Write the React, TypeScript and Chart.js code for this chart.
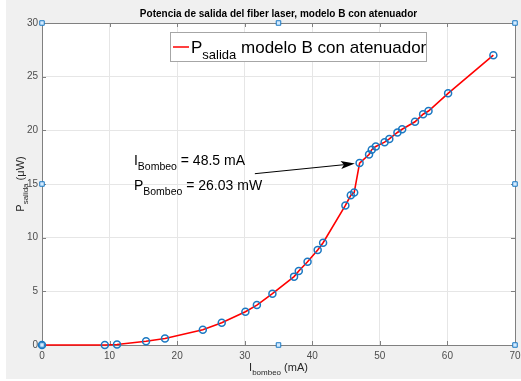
import React, { useEffect, useRef } from 'react';
import { Chart, registerables } from 'chart.js';

Chart.register(...registerables);

// ---- data ----
const currentMA = [0, 9.3, 11.1, 15.4, 18.2, 23.8, 26.6, 30.1, 31.8, 34.1, 37.3, 38.0, 39.3, 40.8, 41.6, 44.9, 45.7, 46.2, 47.0, 48.4, 48.8, 49.4, 50.7, 51.4, 52.6, 53.3, 55.2, 56.4, 57.2, 60.1, 66.8];
const powerUW = [0, 0, 0.05, 0.35, 0.6, 1.42, 2.07, 3.1, 3.72, 4.78, 6.37, 6.9, 7.76, 8.85, 9.53, 13.0, 13.95, 14.2, 16.95, 17.75, 18.2, 18.5, 18.9, 19.2, 19.8, 20.1, 20.8, 21.5, 21.8, 23.45, 27.0];

// selection handles of the axes (MATLAB edit mode)
const handleX = [0, 35, 70, 0, 70, 0, 35, 70];
const handleY = [0, 0, 0, 15, 15, 30, 30, 30];

const xMin = 0, xMax = 70, xStep = 10;
const yMin = 0, yMax = 30, yStep = 5;

const titleText = 'Potencia de salida del fiber laser, modelo B con atenuador';
const legendMain = 'P';
const legendSub = 'salida';
const legendRest = ' modelo B con atenuador';

// annotation (data units)
const annotTextX = 13.6;
const annotLine1Y = 16.75;
const annotLine2Y = 14.4;
const arrowFrom = [31.5, 15.96];
const arrowTo = [46.3, 16.9];

const FONT = '"Liberation Sans", Arial, Helvetica, sans-serif';

type Part = { t: string; sub?: boolean };

function richWidth(ctx: CanvasRenderingContext2D, parts: Part[], size: number, subSize: number) {
  let w = 0;
  for (const p of parts) {
    ctx.font = `${p.sub ? subSize : size}px ${FONT}`;
    w += ctx.measureText(p.t).width;
  }
  return w;
}

function drawRich(ctx: CanvasRenderingContext2D, parts: Part[], x: number, y: number, size: number, subSize: number, subDrop: number) {
  let cx = x;
  ctx.textAlign = 'left';
  ctx.textBaseline = 'alphabetic';
  for (const p of parts) {
    ctx.font = `${p.sub ? subSize : size}px ${FONT}`;
    ctx.fillText(p.t, cx, p.sub ? y + subDrop : y);
    cx += ctx.measureText(p.t).width;
  }
}

const matlabPlugin = {
  id: 'matlabDeco',
  beforeDraw(chart: any) {
    const { ctx, chartArea: a } = chart;
    ctx.save();
    ctx.fillStyle = '#ffffff';
    ctx.fillRect(a.left, a.top, a.right - a.left, a.bottom - a.top);
    ctx.restore();
  },
  beforeDatasetsDraw(chart: any) {
    const { ctx, chartArea: a, scales } = chart;
    const xs = scales.x, ys = scales.y;
    ctx.save();
    ctx.strokeStyle = '#808080';
    ctx.lineWidth = 1;
    ctx.beginPath();
    ctx.rect(Math.round(a.left) + 0.5, Math.round(a.top) + 0.5, Math.round(a.right - a.left), Math.round(a.bottom - a.top));
    ctx.stroke();
    // inward ticks
    const tl = 4;
    ctx.beginPath();
    for (let v = xMin; v <= xMax; v += xStep) {
      const px = Math.round(xs.getPixelForValue(v)) + 0.5;
      ctx.moveTo(px, a.bottom); ctx.lineTo(px, a.bottom - tl);
      ctx.moveTo(px, a.top); ctx.lineTo(px, a.top + tl);
    }
    for (let v = yMin; v <= yMax; v += yStep) {
      const py = Math.round(ys.getPixelForValue(v)) + 0.5;
      ctx.moveTo(a.left, py); ctx.lineTo(a.left + tl, py);
      ctx.moveTo(a.right, py); ctx.lineTo(a.right - tl, py);
    }
    ctx.stroke();
    ctx.restore();
  },
  afterDraw(chart: any) {
    const { ctx, chartArea: a, scales } = chart;
    const xs = scales.x, ys = scales.y;
    const cxMid = (a.left + a.right) / 2;
    ctx.save();

    // title
    ctx.fillStyle = '#000000';
    ctx.font = `bold 10px ${FONT}`;
    ctx.textAlign = 'center';
    ctx.textBaseline = 'alphabetic';
    ctx.fillText(titleText, cxMid, 17);

    // x axis label
    ctx.fillStyle = '#262626';
    const xl: Part[] = [{ t: 'I' }, { t: 'bombeo', sub: true }, { t: ' (mA)' }];
    const xw = richWidth(ctx, xl, 11, 8);
    drawRich(ctx, xl, cxMid - xw / 2, 371, 11, 8, 4);

    // y axis label (rotated)
    const yl: Part[] = [{ t: 'P' }, { t: 'salida', sub: true }, { t: ' (\u03BCW)' }];
    const yw = richWidth(ctx, yl, 11, 8);
    ctx.save();
    ctx.translate(18, (a.top + a.bottom) / 2);
    ctx.rotate(-Math.PI / 2);
    drawRich(ctx, yl, -yw / 2, 0, 11, 8, 4);
    ctx.restore();

    // legend box
    const lx = 164, ly = a.top + 9, lw = 256, lh = 29;
    ctx.fillStyle = '#ffffff';
    ctx.fillRect(lx, ly, lw, lh);
    ctx.strokeStyle = '#a6a6a6';
    ctx.lineWidth = 1;
    ctx.strokeRect(Math.round(lx) + 0.5, Math.round(ly) + 0.5, lw, lh);
    ctx.strokeStyle = '#ff0000';
    ctx.lineWidth = 1.5;
    ctx.beginPath();
    ctx.moveTo(lx + 3, ly + 15);
    ctx.lineTo(lx + 19, ly + 15);
    ctx.stroke();
    ctx.fillStyle = '#000000';
    drawRich(ctx, [{ t: legendMain }, { t: legendSub, sub: true }, { t: legendRest }], lx + 21, ly + 21, 17, 13, 6);

    // annotation text
    const tx = xs.getPixelForValue(annotTextX);
    drawRich(ctx, [{ t: 'I' }, { t: 'Bombeo', sub: true }, { t: ' = 48.5 mA' }], tx, ys.getPixelForValue(annotLine1Y), 14, 10.5, 5);
    drawRich(ctx, [{ t: 'P' }, { t: 'Bombeo', sub: true }, { t: ' = 26.03 mW' }], tx, ys.getPixelForValue(annotLine2Y), 14, 10.5, 5);

    // arrow
    const x0 = xs.getPixelForValue(arrowFrom[0]), y0 = ys.getPixelForValue(arrowFrom[1]);
    const x1 = xs.getPixelForValue(arrowTo[0]), y1 = ys.getPixelForValue(arrowTo[1]);
    const ang = Math.atan2(y1 - y0, x1 - x0);
    const hl = 11, hw = 4;
    const bx = x1 - hl * Math.cos(ang), by = y1 - hl * Math.sin(ang);
    ctx.strokeStyle = '#000000';
    ctx.lineWidth = 1;
    ctx.beginPath();
    ctx.moveTo(x0, y0);
    ctx.lineTo(bx, by);
    ctx.stroke();
    ctx.fillStyle = '#000000';
    ctx.beginPath();
    ctx.moveTo(x1, y1);
    ctx.lineTo(bx - hw * Math.sin(ang) - 3 * Math.cos(ang), by + hw * Math.cos(ang) - 3 * Math.sin(ang));
    ctx.lineTo(bx, by);
    ctx.lineTo(bx + hw * Math.sin(ang) - 3 * Math.cos(ang), by - hw * Math.cos(ang) - 3 * Math.sin(ang));
    ctx.closePath();
    ctx.fill();

    ctx.restore();
  },
};

export default function App() {
  const canvasRef = useRef<HTMLCanvasElement | null>(null);

  useEffect(() => {
    if (!canvasRef.current) return;
    const chart = new Chart(canvasRef.current, {
      type: 'line',
      data: {
        datasets: [
          {
            label: 'P salida modelo B con atenuador',
            data: currentMA.map((x, i) => ({ x, y: powerUW[i] })),
            borderColor: '#ff0000',
            borderWidth: 1.6,
            tension: 0,
            pointStyle: 'circle',
            pointRadius: 3.5,
            pointBorderWidth: 1.5,
            pointBorderColor: '#1a78c2',
            pointBackgroundColor: 'rgba(0,0,0,0)',
            fill: false,
            clip: false,
            order: 2,
          },
          {
            label: 'handles',
            data: handleX.map((x, i) => ({ x, y: handleY[i] })),
            showLine: false,
            pointStyle: 'rect',
            pointRadius: 3.2,
            pointBorderWidth: 1,
            pointBorderColor: '#1a78c2',
            pointBackgroundColor: '#d4ebff',
            clip: false,
            order: 1,
          },
        ],
      } as any,
      options: {
        animation: false,
        responsive: false,
        events: [],
        layout: { padding: { left: 0, right: 6, top: 23, bottom: 0 } },
        plugins: { legend: { display: false }, title: { display: false }, tooltip: { enabled: false } },
        scales: {
          x: {
            type: 'linear',
            min: xMin,
            max: xMax,
            ticks: { stepSize: xStep, color: '#4d4d4d', font: { family: FONT, size: 10 }, padding: 5, maxRotation: 0 },
            grid: { color: '#e6e6e6', drawTicks: false },
            border: { display: false },
            afterFit: (s: any) => { s.height = 34; s.paddingRight = 0; s.paddingLeft = 0; },
          },
          y: {
            type: 'linear',
            min: yMin,
            max: yMax,
            ticks: { stepSize: yStep, color: '#4d4d4d', font: { family: FONT, size: 10 }, padding: 4 },
            grid: { color: '#e6e6e6', drawTicks: false },
            border: { display: false },
            afterFit: (s: any) => { s.width = 36; s.paddingTop = 0; s.paddingBottom = 0; },
          },
        },
      } as any,
      plugins: [matlabPlugin],
    });
    return () => chart.destroy();
  }, []);

  return (
    <div style={{ position: 'fixed', left: 6, top: 0, width: 515, height: 379, background: '#f0f0f0' }}>
      <canvas ref={canvasRef} width={515} height={379} style={{ display: 'block' }} />
    </div>
  );
}
